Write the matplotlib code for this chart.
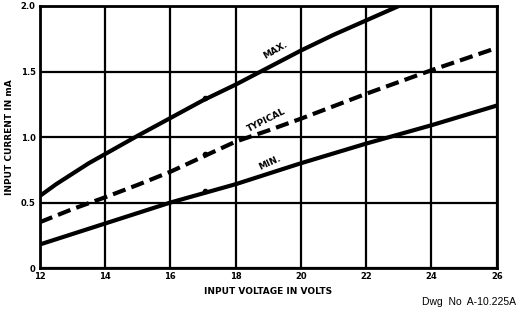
import numpy as np
import matplotlib
matplotlib.use("Agg")
from matplotlib import pyplot as plt

# input voltage (V) and input current (mA)
maxVolts     = [12, 12.5, 13, 13.5, 14, 15, 16, 17, 18, 19, 20, 21, 22, 23]
maxCurrent   = [0.55, 0.64, 0.72, 0.80, 0.87, 1.01, 1.145, 1.28, 1.40, 1.53, 1.66, 1.78, 1.89, 2.0]

typVolts     = [12, 13, 14, 15, 16, 17, 18, 19, 20, 22, 24, 26]
typCurrent   = [0.35, 0.45, 0.54, 0.635, 0.735, 0.85, 0.965, 1.05, 1.14, 1.33, 1.51, 1.68]

minVolts     = [12, 14, 16, 18, 20, 22, 24, 26]
minCurrent   = [0.18, 0.34, 0.50, 0.64, 0.80, 0.95, 1.09, 1.24]

# the small plotted test points at 17 V
dotVolts     = [17.05, 17.05, 17.05]
dotCurrent   = [1.30, 0.87, 0.59]

xTicks       = [12, 14, 16, 18, 20, 22, 24, 26]
yTicks       = [0, 0.5, 1.0, 1.5, 2.0]
yTickLabels  = ["0", "0.5", "1.0", "1.5", "2.0"]

fig = plt.figure(figsize=(5.24, 3.15), dpi=100)
ax  = fig.add_axes([0.076, 0.149, 0.872, 0.832])

ax.plot(maxVolts, maxCurrent, color="black", lw=3.0, solid_capstyle="butt",
        solid_joinstyle="round", zorder=3)
ax.plot(typVolts, typCurrent, color="black", lw=3.0, dashes=(3.2, 1.5), zorder=3)
ax.plot(minVolts, minCurrent, color="black", lw=3.0, solid_capstyle="butt", zorder=3)
ax.plot(dotVolts, dotCurrent, "o", color="black", ms=3, zorder=4)

ax.set_xlim(12, 26)
ax.set_ylim(0, 2.0)
ax.set_xticks(xTicks)
ax.set_yticks(yTicks)
ax.set_yticklabels(yTickLabels)
ax.grid(True, color="black", lw=1.6)
ax.tick_params(length=0, pad=3, labelsize=6)
for lab in ax.get_xticklabels() + ax.get_yticklabels():
    lab.set_fontweight("bold")
for sp in ax.spines.values():
    sp.set_linewidth(2.0)

ax.text(19.2, 1.66, "MAX.", rotation=30, fontsize=6.5, fontweight="bold", ha="center", va="center")
ax.text(18.95, 1.13, "TYPICAL", rotation=27, fontsize=6.5, fontweight="bold", ha="center", va="center")
ax.text(19.05, 0.80, "MIN.", rotation=25, fontsize=6.5, fontweight="bold", ha="center", va="center")

ax.set_xlabel("INPUT VOLTAGE IN VOLTS", fontsize=6.5, fontweight="bold", labelpad=4)
ax.set_ylabel("INPUT CURRENT IN mA", fontsize=6.5, fontweight="bold", labelpad=5)

fig.text(0.985, 0.025, "Dwg  No  A-10.225A", fontsize=7.5, ha="right", va="bottom",
         family="Liberation Sans")

fig.savefig("out.png", dpi=100)
